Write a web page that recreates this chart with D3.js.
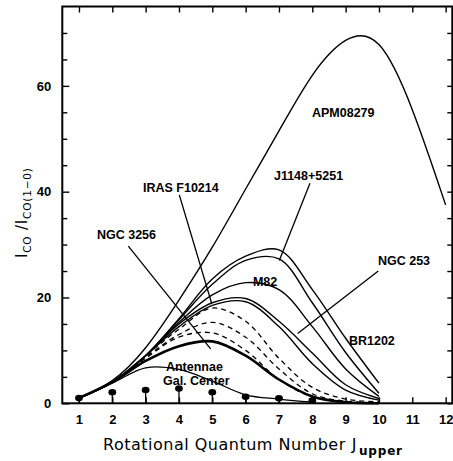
<!DOCTYPE html>
<html>
<head>
<meta charset="utf-8">
<script src="https://cdn.jsdelivr.net/npm/d3@7"></script>
<style>
  body { margin: 0; background: #fff; }
  svg { display: block; }
  .tick text { font-family: "Liberation Sans", Arial, sans-serif; font-size: 13px; font-weight: bold; fill: #000; }
  .tick line { stroke: #000; stroke-width: 1.4; }
  .domain { display: none; }
  .lbl { font-family: "Liberation Sans", Arial, sans-serif; font-size: 12.5px; font-weight: bold; fill: #000; }
  .ttl { font-family: "DejaVu Sans", sans-serif; fill: #000; }
</style>
</head>
<body>
<div class="chart"></div>
<script>
const width = 453;
const height = 461;

/* data: CO line ratios I_CO / I_CO(1-0) */
const jLevels = [1, 2, 3, 4, 5, 6, 7, 8, 9, 10];
const jLevelsApm = [1, 2, 3, 4, 5, 6, 7, 8, 9, 10, 11, 12];
const apm08279 = [1, 4.3, 10.5, 19.5, 29.5, 40.5, 51.5, 62, 68.6, 67.8, 55.5, 37.5];
const j1148 = [1, 4, 9, 16, 23.5, 27.8, 29, 21.5, 12.3, 3.8];
const br1202 = [1, 4, 9, 15.8, 22.5, 27, 27.3, 19, 9.6, 1.9];
const m82 = [1, 4, 9, 15.3, 20.5, 22.8, 21.5, 14.5, 6.5, 1.3];
const ngc253 = [1, 4, 9, 15, 19, 19.8, 15.5, 9.5, 3.5, 0.9];
const irasF10214 = [1, 4, 9, 14.5, 18.5, 19.2, 14.5, 7.5, 2.5, 0.6];
const dashedA = [1, 4, 9, 14, 18, 15.5, 8.5, 3, 0.8, 0.3];
const dashedB = [1, 4, 8.7, 13, 15.3, 12.5, 6.5, 1.8, 0.4, 0.1];
const dashedC = [1, 4, 8.5, 12.5, 13.3, 10, 4.5, 1.2, 0.3, 0.1];
const ngc3256 = [1, 4, 8, 10.8, 11.7, 9, 4.5, 1.3, 0.2, 0];
const antennae = [1, 3.8, 6.7, 6.4, 4.2, 1.6, 0.8, 0.2];
const galCenter = [1, 2.1, 2.5, 2.8, 2.1, 1.25, 0.95, 0.5];

/* annotation text and pointer lines, in data units (J, ratio) */
const labels = [
    { text: 'APM08279', j: 7.99, v: 54.1 },
    { text: 'J1148+5251', j: 6.85, v: 42.2 },
    { text: 'IRAS F10214', j: 2.92, v: 39.9 },
    { text: 'NGC 3256', j: 1.54, v: 31.1 },
    { text: 'M82', j: 6.22, v: 22.2 },
    { text: 'NGC 253', j: 9.97, v: 26.1 },
    { text: 'BR1202', j: 9.1, v: 11.0 },
    { text: 'Antennae', j: 3.61, v: 6.1 },
    { text: 'Gal. Center', j: 3.52, v: 3.5 }
];
const pointers = [
    [[7.93, 41.6], [7.01, 27.0]],
    [[4.01, 39.4], [4.98, 18.9]],
    [[2.48, 29.7], [4.95, 10.3]],
    [[9.98, 25.0], [7.56, 13.2]]
];

const svg = d3.select('.chart').append('svg')
    .attr('width', width)
    .attr('height', height);

const xScale = d3.scaleLinear().domain([0.5, 12.2]).range([62.3, 452.3]);
const yScale = d3.scaleLinear().domain([0, 75]).range([403.3, 6.5]);

/*      curves      */
const line = d3.line()
    .x(d => xScale(d[0]))
    .y(d => yScale(d[1]))
    .curve(d3.curveCatmullRom.alpha(0.5));
const lineNatural = d3.line()
    .x(d => xScale(d[0]))
    .y(d => yScale(d[1]))
    .curve(d3.curveNatural);

const series = [
    { j: jLevelsApm, v: apm08279, w: 1.4, dash: null, gen: lineNatural },
    { j: jLevels, v: j1148, w: 1.4, dash: null, gen: line },
    { j: jLevels, v: br1202, w: 1.4, dash: null, gen: line },
    { j: jLevels, v: m82, w: 1.4, dash: null, gen: line },
    { j: jLevels, v: ngc253, w: 1.4, dash: null, gen: line },
    { j: jLevels, v: irasF10214, w: 1.4, dash: null, gen: line },
    { j: jLevels, v: dashedA, w: 1.3, dash: '5,4', gen: line },
    { j: jLevels, v: dashedB, w: 1.3, dash: '5,4', gen: line },
    { j: jLevels, v: dashedC, w: 1.3, dash: '5,4', gen: line },
    { j: jLevels, v: ngc3256, w: 2.6, dash: null, gen: line },
    { j: jLevels.slice(0, antennae.length), v: antennae, w: 1.3, dash: null, gen: line }
];

svg.append('g').selectAll('path')
    .data(series)
    .enter()
    .append('path')
    .attr('d', s => s.gen(s.j.map((j, i) => [j, s.v[i]])))
    .attr('fill', 'none')
    .attr('stroke', '#000')
    .attr('stroke-width', s => s.w)
    .attr('stroke-dasharray', s => s.dash);

/*      Galactic centre points with stems      */
const gc = svg.append('g').selectAll('g')
    .data(galCenter)
    .enter()
    .append('g');
gc.append('line')
    .attr('x1', (d, i) => xScale(jLevels[i]))
    .attr('x2', (d, i) => xScale(jLevels[i]))
    .attr('y1', d => yScale(d))
    .attr('y2', yScale(0))
    .attr('stroke', '#000')
    .attr('stroke-width', 1.3);
gc.append('ellipse')
    .attr('cx', (d, i) => xScale(jLevels[i]))
    .attr('cy', d => yScale(d))
    .attr('rx', 3.9)
    .attr('ry', 3.3)
    .attr('fill', '#000');

/*      labels and pointers      */
svg.append('g').selectAll('line')
    .data(pointers)
    .enter()
    .append('line')
    .attr('x1', d => xScale(d[0][0]))
    .attr('y1', d => yScale(d[0][1]))
    .attr('x2', d => xScale(d[1][0]))
    .attr('y2', d => yScale(d[1][1]))
    .attr('stroke', '#000')
    .attr('stroke-width', 1.3);

svg.append('g').selectAll('text')
    .data(labels)
    .enter()
    .append('text')
    .attr('class', 'lbl')
    .attr('x', d => xScale(d.j))
    .attr('y', d => yScale(d.v))
    .text(d => d.text);

/*      axes      */
const xTicks = d3.range(1, 13);
svg.append('g')
    .attr('transform', `translate(0, ${yScale(0)})`)
    .call(d3.axisBottom(xScale).tickValues(xTicks).tickSizeInner(-6).tickSizeOuter(0).tickPadding(11).tickFormat(d3.format('d')));
svg.append('g')
    .attr('transform', `translate(0, ${yScale(75)})`)
    .call(d3.axisTop(xScale).tickValues(xTicks).tickSizeInner(-6).tickSizeOuter(0).tickFormat(''));

const yMajor = [0, 20, 40, 60];
const yMinor = d3.range(5, 75, 5).filter(v => v % 20 !== 0);
svg.append('g')
    .attr('transform', `translate(${xScale(0.5)}, 0)`)
    .call(d3.axisLeft(yScale).tickValues(yMajor).tickSizeInner(-7).tickSizeOuter(0).tickPadding(11).tickFormat(d3.format('d')));
svg.append('g')
    .attr('transform', `translate(${xScale(0.5)}, 0)`)
    .call(d3.axisLeft(yScale).tickValues(yMinor).tickSizeInner(-5).tickSizeOuter(0).tickFormat(''));
svg.append('g')
    .attr('transform', `translate(${xScale(12.2)}, 0)`)
    .call(d3.axisRight(yScale).tickValues(yMajor.concat(yMinor)).tickSizeInner(-5).tickSizeOuter(0).tickFormat(''));

svg.append('rect')
    .attr('x', xScale(0.5))
    .attr('y', yScale(75))
    .attr('width', xScale(12.2) - xScale(0.5))
    .attr('height', yScale(0) - yScale(75))
    .attr('fill', 'none')
    .attr('stroke', '#000')
    .attr('stroke-width', 2);

/*      axis titles      */
const xt = svg.append('text')
    .attr('class', 'ttl')
    .attr('x', 103)
    .attr('y', 450)
    .attr('font-size', 16)
    .attr('letter-spacing', 0.5);
xt.append('tspan').text('Rotational Quantum Number');
xt.append('tspan').attr('dx', 6).text('J');
xt.append('tspan').attr('font-size', 12).attr('font-weight', 'bold').attr('letter-spacing', 0.8).attr('dy', 5).attr('dx', 2).text('upper');

const yt = svg.append('text')
    .attr('class', 'ttl')
    .attr('transform', 'translate(27, 258) rotate(-90)')
    .attr('font-size', 15)
    .attr('letter-spacing', 0.8);
yt.append('tspan').text('I');
yt.append('tspan').attr('font-size', 10.5).attr('dy', 4).text('CO');
yt.append('tspan').attr('dy', -4).text('  /I');
yt.append('tspan').attr('font-size', 10.5).attr('dy', 4).text('CO(1\u22120)');
</script>
</body>
</html>
